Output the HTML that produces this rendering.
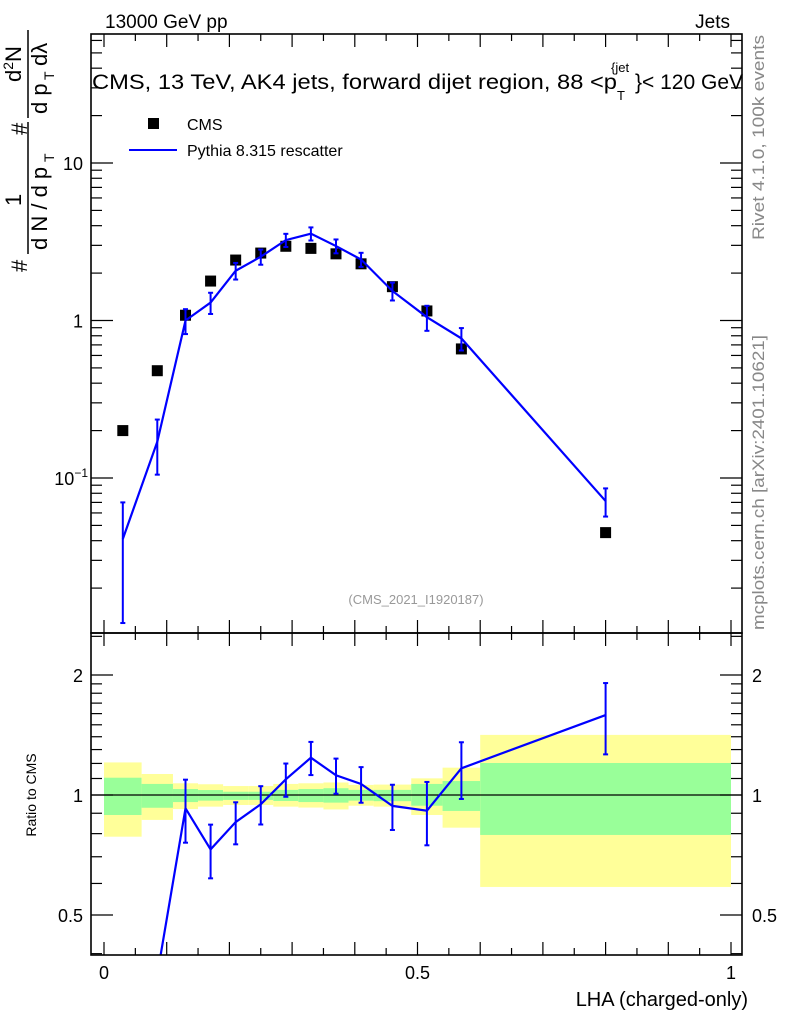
<!DOCTYPE html>
<html><head><meta charset="utf-8"><style>
html,body{margin:0;padding:0;background:#fff;width:786px;height:1024px;overflow:hidden;}
svg{display:block;font-family:"Liberation Sans",sans-serif;}
</style></head><body>
<svg id="chart" width="786" height="1024" viewBox="0 0 786 1024" xmlns="http://www.w3.org/2000/svg">
<defs>
<clipPath id="clipMain"><rect x="91" y="34" width="651" height="599"/></clipPath>
<clipPath id="clipRatio"><rect x="91" y="633" width="651" height="322"/></clipPath>
</defs>
<g id="bands" clip-path="url(#clipRatio)"></g>
<g id="marks"></g>
<g id="axes"></g>
<text x="105" y="28" font-size="19">13000 GeV pp</text>
<text x="730" y="28" font-size="19" text-anchor="end">Jets</text>
<g>
<text x="92" y="89" font-size="21" textLength="525" lengthAdjust="spacingAndGlyphs">CMS, 13 TeV, AK4 jets, forward dijet region, 88 &lt;p</text>
<text x="611" y="72" font-size="13">{jet</text>
<text x="617" y="100" font-size="13">T</text>
<text x="635" y="89" font-size="21">}&lt; 120 GeV</text>
</g>
<rect x="148" y="118" width="11" height="11" fill="#000"/>
<text x="187" y="130" font-size="16">CMS</text>
<line x1="129" y1="150" x2="177" y2="150" stroke="#0000ff" stroke-width="2"/>
<text x="187" y="156" font-size="16">Pythia 8.315 rescatter</text>
<text x="416" y="604" font-size="13" fill="#999" text-anchor="middle">(CMS_2021_I1920187)</text>
<text transform="translate(764,240) rotate(-90)" font-size="17" fill="#888" textLength="205" lengthAdjust="spacingAndGlyphs">Rivet 4.1.0,  100k events</text>
<text transform="translate(764,630) rotate(-90)" font-size="17" fill="#888" textLength="295" lengthAdjust="spacingAndGlyphs">mcplots.cern.ch [arXiv:2401.10621]</text>
<g font-size="22">
<text transform="translate(27,272) rotate(-90)">#</text>
<text transform="translate(21,206) rotate(-90)">1</text>
<line x1="28" y1="122" x2="28" y2="254" stroke="#000" stroke-width="1.5"/>
<text transform="translate(47,250) rotate(-90)">d N / d p</text>
<text transform="translate(54,162) rotate(-90)" font-size="14">T</text>
<text transform="translate(27,135) rotate(-90)">#</text>
<text transform="translate(21,82) rotate(-90)">d<tspan font-size="14" dy="-8">2</tspan><tspan dy="8">N</tspan></text>
<line x1="28" y1="30" x2="28" y2="118" stroke="#000" stroke-width="1.5"/>
<text transform="translate(47,114) rotate(-90)">d p</text>
<text transform="translate(54,80) rotate(-90)" font-size="14">T</text>
<text transform="translate(47,66) rotate(-90)">dλ</text>
</g>
<text transform="translate(36,795) rotate(-90)" font-size="14" text-anchor="middle">Ratio to CMS</text>
<text x="748" y="1006" font-size="20" text-anchor="end">LHA (charged-only)</text>
</svg>
<script>
const binEdges = [0,0.06,0.11,0.15,0.19,0.23,0.27,0.31,0.35,0.39,0.43,0.49,0.54,0.6,1.0];
const cmsValues = [0.20,0.48,1.08,1.78,2.42,2.68,2.96,2.87,2.65,2.29,1.64,1.15,0.66,0.045];
const pythiaValues = [0.041,0.17,1.0,1.3,2.07,2.54,3.24,3.56,2.97,2.44,1.54,1.05,0.77,0.0714];
const pythiaErrors = [0.029,0.065,0.18,0.20,0.25,0.28,0.31,0.34,0.30,0.25,0.20,0.19,0.125,0.0145];
const yellowUp = [1.207,1.129,1.070,1.064,1.053,1.053,1.066,1.07,1.075,1.06,1.062,1.101,1.171,1.415];
const yellowDn = [0.786,0.866,0.922,0.935,0.944,0.944,0.935,0.93,0.92,0.94,0.935,0.891,0.828,0.588];
const greenUp = [1.105,1.066,1.035,1.029,1.019,1.019,1.03,1.035,1.04,1.03,1.03,1.066,1.084,1.203];
const greenDn = [0.891,0.929,0.960,0.968,0.972,0.972,0.966,0.96,0.957,0.968,0.965,0.94,0.912,0.794];
const xTickLabels = ["0","0.5","1"];
const xTickValues = [0,0.5,1];
const mainTickValues = [0.1,1,10];
const ratioTickValues = [0.5,1,2];
const ratioTickLabels = ["0.5","1","2"];

const NS="http://www.w3.org/2000/svg";
const X=v=>104+627*v;
const YM=v=>163-157.5*(Math.log10(v)-1);
const YR=v=>795-398.7*Math.log10(v);
const L=91,R=742,T=34,MID=633,B=955;
function mk(tag,attrs,parent){const e=document.createElementNS(NS,tag);for(const k in attrs)e.setAttribute(k,attrs[k]);parent.appendChild(e);return e;}
const bands=document.getElementById('bands'),marks=document.getElementById('marks'),axes=document.getElementById('axes');
const centers=binEdges.slice(0,-1).map((e,i)=>(e+binEdges[i+1])/2);

for(let i=0;i<centers.length;i++){
  const x0=X(binEdges[i]),x1=X(binEdges[i+1]);
  const y=mk('rect',{x:x0,y:YR(yellowUp[i]),width:x1-x0,height:YR(yellowDn[i])-YR(yellowUp[i]),fill:'#ffff99'},bands);
  
  
  const g=mk('rect',{x:x0,y:YR(greenUp[i]),width:x1-x0,height:YR(greenDn[i])-YR(greenUp[i]),fill:'#99ff99'},bands);
  
  
}
const one=mk('line',{x1:L,x2:R,y1:YR(1),y2:YR(1),stroke:'#000','stroke-width':1.2},marks);



const gm=mk('g',{'clip-path':'url(#clipMain)'},marks);
const gr=mk('g',{'clip-path':'url(#clipRatio)'},marks);
centers.forEach((c,i)=>{
  const r=mk('rect',{x:X(c)-5.5,y:YM(cmsValues[i])-5.5,width:11,height:11,fill:'#000'},gm);
  
  
});
const lm=mk('polyline',{points:centers.map((c,i)=>X(c)+','+YM(pythiaValues[i])).join(' '),fill:'none',stroke:'#0000ff','stroke-width':2.2},gm);


const ratios=pythiaValues.map((v,i)=>v/cmsValues[i]);
const lr=mk('polyline',{points:centers.map((c,i)=>X(c)+','+YR(ratios[i])).join(' '),fill:'none',stroke:'#0000ff','stroke-width':2.2},gr);


function errbar(parent,x,y1,y2,name){
  const g=mk('g',{stroke:'#0000ff','stroke-width':2},parent);
  
  
  mk('line',{x1:x,x2:x,y1:y1,y2:y2},g);
  mk('line',{x1:x-2.5,x2:x+2.5,y1:y1,y2:y1},g);
  mk('line',{x1:x-2.5,x2:x+2.5,y1:y2,y2:y2},g);
}
centers.forEach((c,i)=>{
  const v=pythiaValues[i],e=pythiaErrors[i];
  errbar(gm,X(c),YM(v+e),YM(Math.max(v-e,0.005)),'pythia-error-bar');
  const r=ratios[i],re=e/cmsValues[i];
  if(YR(r)<=B) errbar(gr,X(c),YR(r+re),YR(Math.max(r-re,0.01)),'pythia-ratio-error-bar');
});

[[T,MID],[MID,B]].forEach(([a,b],k)=>{
  const f=mk('rect',{x:L,y:a,width:R-L,height:b-a,fill:'none',stroke:'#000','stroke-width':1.6},axes);
  
  
});
function tick(x1,y1,x2,y2){mk('line',{x1:x1,y1:y1,x2:x2,y2:y2,stroke:'#000','stroke-width':1.2},axes);}
for(let k=0;k<=20;k++){
  const v=k*0.05,x=X(v);if(x<L||x>R)continue;
  const len=(k%2==0)?13:7;
  [T,MID].forEach(yy=>{tick(x,yy,x,yy+len);});
  [MID,B].forEach(yy=>{tick(x,yy,x,yy-len);});
}
xTickValues.forEach((v,i)=>{
  const t=mk('text',{x:X(v),y:979,'font-size':18,'text-anchor':'middle'},axes);t.textContent=xTickLabels[i];
  
  
});
for(let d=-2;d<=1;d++){for(let m=1;m<=9;m++){
  const v=m*Math.pow(10,d),y=YM(v);if(y<T||y>MID)continue;
  const len=m==1?22:11;tick(L,y,L+len,y);tick(R,y,R-len,y);
}}
mainTickValues.forEach(v=>{
  const t=mk('text',{x:83,y:YM(v)+7,'font-size':18,'text-anchor':'end'},axes);
  if(v==0.1){t.textContent='10';const s=document.createElementNS(NS,'tspan');s.setAttribute('font-size','12');s.setAttribute('dy','-8');s.textContent='−1';t.appendChild(s);t.setAttribute('x',88);}else t.textContent=String(v);
  
  
});
[0.4,0.5,0.6,0.7,0.8,0.9,1,1.1,1.2,1.3,1.4,1.5,1.6,1.7,1.8,1.9,2,2.5].forEach(v=>{
  const y=YR(v);if(y<MID||y>B)return;const len=[0.5,1,2].includes(v)?22:11;
  tick(L,y,L+len,y);tick(R,y,R-len,y);
});
ratioTickValues.forEach((v,i)=>{
  const t=mk('text',{x:83,y:YR(v)+7,'font-size':18,'text-anchor':'end'},axes);t.textContent=ratioTickLabels[i];
  
  
  const t2=mk('text',{x:752,y:YR(v)+7,'font-size':18},axes);t2.textContent=ratioTickLabels[i];
  
  
});
</script>
</body></html>
